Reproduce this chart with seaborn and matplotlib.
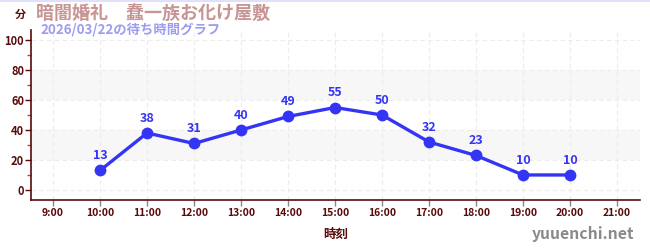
import matplotlib
matplotlib.use("Agg")
import matplotlib.pyplot as plt
import seaborn as sns
import pandas as pd
from matplotlib.ticker import MultipleLocator, FixedLocator

hours = [10, 11, 12, 13, 14, 15, 16, 17, 18, 19, 20]
waits = [13, 38, 31, 40, 49, 55, 50, 32, 23, 10, 10]
tick_hours = list(range(9, 22))
tick_labels = [f"{h}:00" for h in tick_hours]
title = "暗闇婚礼　蠢一族お化け屋敷"
subtitle = "2026/03/22の待ち時間グラフ"

sns.set_theme(style="white")
plt.rcParams['font.family'] = ['Noto Sans CJK JP', 'DejaVu Sans']

df = pd.DataFrame({"hour": hours, "wait": waits})

fig = plt.figure(figsize=(6.5, 2.5), dpi=100)
ax = fig.add_axes([31/650, 50/250, (640-31)/650, 170/250])

dark = "#5a0a0a"
blue = "#3434f5"

for lo, hi in [(20, 40), (60, 80)]:
    ax.axhspan(lo, hi, color="#f7f7f7", zorder=0, lw=0)

sns.lineplot(data=df, x="hour", y="wait", ax=ax, color=blue, lw=2.4,
             marker="o", markersize=8.5, markeredgewidth=0, zorder=3)

for h, w in zip(hours, waits):
    ax.annotate(str(w), (h, w), xytext=(0, 6), textcoords="offset points",
                ha="center", va="bottom", color=blue, fontsize=9,
                fontweight="bold", zorder=4)

ax.set_xlim(8.53, 21.49)
ax.set_ylim(-6.7, 106.7)
ax.xaxis.set_major_locator(FixedLocator(tick_hours))
ax.set_xticklabels(tick_labels)
ax.yaxis.set_major_locator(MultipleLocator(20))
ax.yaxis.set_minor_locator(FixedLocator([10, 30, 50, 70, 90]))

ax.grid(True, axis="both", which="major", ls=(0, (4, 3)), color="#ececec", lw=0.8)
ax.set_axisbelow(True)

for s in ["top", "right"]:
    ax.spines[s].set_visible(False)
for s in ["left", "bottom"]:
    ax.spines[s].set_color(dark)
    ax.spines[s].set_linewidth(1.2)

ax.tick_params(axis="y", which="major", length=4, width=1, color=dark,
               labelsize=8, labelcolor=dark, pad=1, left=True)
ax.tick_params(axis="y", which="minor", length=3, width=1, color="#e03030", left=True)
ax.tick_params(axis="x", which="major", length=4, width=1, color="#888888",
               labelsize=7.5, labelcolor=dark, pad=2, bottom=True)
for lab in ax.get_xticklabels() + ax.get_yticklabels():
    lab.set_fontweight("bold")

ax.set_xlabel("時刻", color=dark, fontsize=9, fontweight="bold", labelpad=7)
ax.set_ylabel("")

fig.text(20/650, 1 - 14/250, "分", color=dark, fontsize=8, fontweight="bold",
         ha="center", va="center")
fig.text(36/650, 1 - 13/250, title, color="#c89595", fontsize=13,
         fontweight="bold", ha="left", va="center")
fig.text(40/650, 1 - 30/250, subtitle, color="#9c9cf0", fontsize=9.6,
         fontweight="bold", ha="left", va="center")
fig.text(634/650, 1 - 234/250, "yuuenchi.net", color="#8a8a8a", fontsize=11.3,
         fontweight="bold", ha="right", va="center")

fig.add_artist(plt.Line2D([0, 1], [0.996, 0.996], color="#e0e0f8", lw=1.5))

fig.savefig("out.png", dpi=100)
